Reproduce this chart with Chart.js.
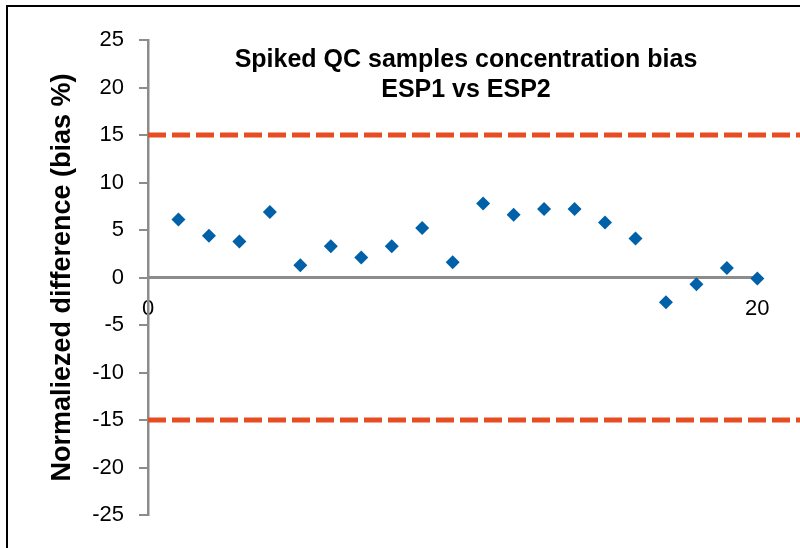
<!DOCTYPE html>
<html>
<head>
<meta charset="utf-8">
<script src="https://cdn.jsdelivr.net/npm/chart.js@4"></script>
<style>
  html, body { margin: 0; padding: 0; background: #fff; overflow: hidden; }
  #wrap { position: relative; width: 800px; height: 548px; }
  #frame {
    position: absolute; left: 6px; top: 5px; width: 900px; height: 700px;
    border-left: 2px solid #000; border-top: 2px solid #000;
  }
  #titulo {
    position: absolute; left: 166px; width: 600px; top: 43px;
    text-align: center; font: bold 25px "Liberation Sans", Arial, sans-serif;
    line-height: 30px; color: #000;
  }
</style>
</head>
<body>
<div id="wrap">
  <div id="frame"></div>
  <canvas id="grafico1" width="800" height="548"></canvas>
  <div id="titulo">Spiked QC samples concentration bias<br>ESP1 vs ESP2</div>
</div>
<script>
const muestras = [1, 2, 3, 4, 5, 6, 7, 8, 9, 10, 11, 12, 13, 14, 15, 16, 17, 18, 19, 20];
const sesgo = [6.1, 4.4, 3.8, 6.9, 1.3, 3.3, 2.1, 3.3, 5.2, 1.6, 7.8, 6.6, 7.2, 7.2, 5.8, 4.1, -2.6, -0.7, 1.0, -0.1];
const limiteSup = 15;
const limiteInf = -15;
const xTicks = [0, 20];
const xMax = 21.4;
const yMin = -25, yMax = 25, yPaso = 5;

const fuente = '"Liberation Sans", Arial, sans-serif';

var ctx = document.getElementById('grafico1');
var myChart = new Chart(ctx, {
    type: 'scatter',
    data: {
        datasets: [
            {
                label: 'bias',
                data: muestras.map((m, i) => ({ x: m, y: sesgo[i] })),
                backgroundColor: '#0060a8',
                borderColor: '#0060a8',
                pointStyle: 'rectRot',
                pointRadius: 7,
                borderWidth: 0,
                order: 1
            },
            {
                type: 'line',
                label: 'cero',
                data: [{ x: xTicks[0], y: 0 }, { x: xTicks[1], y: 0 }],
                borderColor: '#8c8c8c',
                borderWidth: 3,
                pointRadius: 0,
                order: 3
            },
            {
                type: 'line',
                label: '+15',
                data: [{ x: 0, y: limiteSup }, { x: xMax, y: limiteSup }],
                borderColor: '#e84c22',
                borderWidth: 5,
                borderDash: [18, 6],
                pointRadius: 0,
                order: 2
            },
            {
                type: 'line',
                label: '-15',
                data: [{ x: 0, y: limiteInf }, { x: xMax, y: limiteInf }],
                borderColor: '#e84c22',
                borderWidth: 5,
                borderDash: [18, 6],
                pointRadius: 0,
                order: 2
            }
        ]
    },
    options: {
        responsive: false,
        animation: false,
        layout: { autoPadding: false, padding: { left: 0, right: 0, top: 40, bottom: 33 } },
        plugins: { legend: { display: false }, title: { display: false }, tooltip: { enabled: false } },
        scales: {
            x: {
                type: 'linear',
                position: { y: 0 },
                min: 0,
                max: xMax,
                afterBuildTicks: (axis) => { axis.ticks = xTicks.map(v => ({ value: v })); },
                afterFit: (scale) => { scale.paddingLeft = 0; scale.paddingRight = 0; },
                grid: { display: false, drawTicks: false },
                border: { display: false },
                ticks: { color: '#000', font: { family: fuente, size: 22 }, padding: 18, maxRotation: 0 }
            },
            y: {
                min: yMin,
                max: yMax,
                afterFit: (scale) => { scale.width = 148; },
                grid: { drawOnChartArea: false, tickLength: 9, color: '#8c8c8c', lineWidth: 2 },
                border: { color: '#8c8c8c', width: 2.5 },
                ticks: { stepSize: yPaso, color: '#000', font: { family: fuente, size: 22 }, padding: 15 },
                title: {
                    display: true,
                    text: 'Normaliezed difference (bias %)',
                    color: '#000',
                    font: { family: fuente, size: 27, weight: 'bold' },
                    padding: { top: 46, bottom: 0 }
                }
            }
        }
    }
});
</script>
</body>
</html>
